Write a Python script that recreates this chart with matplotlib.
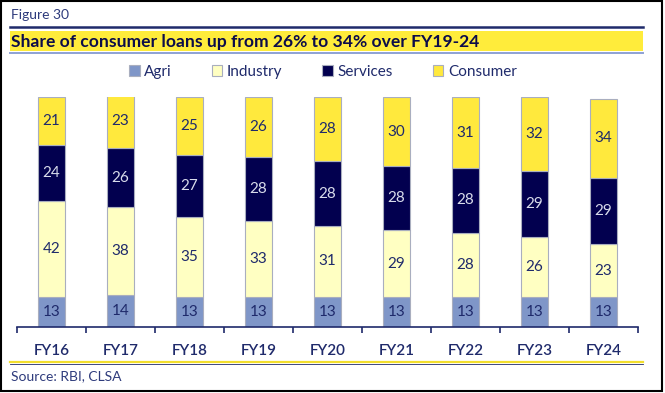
import numpy as np
import matplotlib
matplotlib.use("Agg")
import matplotlib.pyplot as plt
from matplotlib.patches import Rectangle
from matplotlib.lines import Line2D

plt.rcParams['font.family'] = ['Lato', 'DejaVu Sans']

years = ["FY16", "FY17", "FY18", "FY19", "FY20", "FY21", "FY22", "FY23", "FY24"]
agri = [13, 14, 13, 13, 13, 13, 13, 13, 13]
industry = [42, 38, 35, 33, 31, 29, 28, 26, 23]
services = [24, 26, 27, 28, 28, 28, 28, 29, 29]
consumer = [21, 23, 25, 26, 28, 30, 31, 32, 34]

series = [("Agri", agri, "#7F96C8", "#1F2A6B"),
          ("Industry", industry, "#FFFFC2", "#1F2A6B"),
          ("Services", services, "#02004F", "#D8DCEB"),
          ("Consumer", consumer, "#FFE93D", "#1F2A6B")]

navy = "#1F2A6B"
W, H = 665, 393
fig = plt.figure(figsize=(W / 100, H / 100), dpi=100)

def fx(px):
    return px / W

def fy(py):
    return 1 - py / H

# outer border
fig.add_artist(Rectangle((fx(1), fy(391)), fx(661), (390) / H, transform=fig.transFigure,
                         fill=False, edgecolor="black", linewidth=1.5))

# header
fig.text(fx(11), fy(15), "Figure 30", fontsize=10, color="#2E3B7C", va="center")
fig.add_artist(Line2D([fx(10), fx(643)], [fy(27), fy(27)], color=navy, linewidth=1.8))
fig.add_artist(Rectangle((fx(10), fy(51)), fx(633), 20 / H, transform=fig.transFigure,
                         facecolor="#FFEC3B", edgecolor="none"))
fig.add_artist(Line2D([fx(10), fx(643)], [fy(52.5), fy(52.5)], color="#8EA2D4", linewidth=1.4))
fig.text(fx(11), fy(41.5), "Share of consumer loans up from 26% to 34% over FY19-24",
         fontsize=12.6, fontweight="bold", color="#0C0C4A", va="center")

# footer
fig.add_artist(Line2D([fx(10), fx(643)], [fy(362), fy(362)], color="#F2DE2C", linewidth=1.6))
fig.add_artist(Line2D([fx(10), fx(643)], [fy(363.5), fy(363.5)], color=navy, linewidth=0.6))
fig.text(fx(11), fy(376), "Source: RBI, CLSA", fontsize=10, color="#2E3B7C", va="center")

# chart
ax = fig.add_axes([fx(17), 1 - 327 / H, fx(621), 230 / H])
x = np.arange(len(years))
bottom = np.zeros(len(years))
for name, vals, col, tcol in series:
    vals = np.array(vals)
    ax.bar(x, vals, 0.4, bottom=bottom, color=col, edgecolor="#A9AEBF", linewidth=0.8, label=name)
    for xi, b, v in zip(x, bottom, vals):
        ax.text(xi, b + v / 2, str(v), ha="center", va="center", fontsize=11, color=tcol)
    bottom += vals

ax.set_xlim(-0.5, len(years) - 0.5)
ax.set_ylim(0, 100)
ax.set_yticks([])
for s in ["top", "right", "left"]:
    ax.spines[s].set_visible(False)
ax.spines["bottom"].set_color(navy)
ax.spines["bottom"].set_linewidth(1.2)
ax.set_xticks(x)
ax.set_xticklabels(years, fontsize=11, color=navy, fontweight="semibold")
ax.tick_params(axis="x", which="major", length=0, pad=12)
ax.set_xticks(np.arange(-0.5, len(years)), minor=True)
ax.tick_params(axis="x", which="minor", length=4, width=1.2, color=navy, direction="out")

ax.legend(loc="center", bbox_to_anchor=(fx(323 - 17) / fx(621), (327 - 72) / 230),
          ncol=4, frameon=False, fontsize=11, labelcolor=navy,
          handlelength=0.7, handleheight=0.7, handletextpad=0.3, columnspacing=2.6)

fig.savefig("out.png", dpi=100)
